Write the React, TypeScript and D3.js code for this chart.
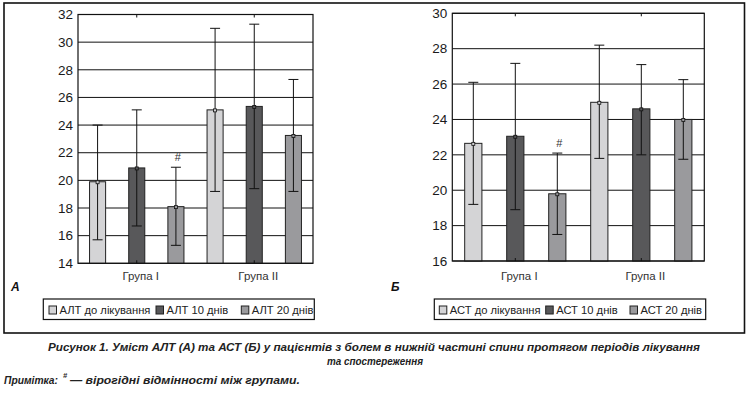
import * as d3 from 'd3';

const groups = ['Група I', 'Група II'];

const altSeries = ['АЛТ до лікування', 'АЛТ 10 днів', 'АЛТ 20 днів'];
const altBefore = [19.9, 25.1];
const altBeforeHi = [24.0, 31.0];
const altBeforeLo = [15.7, 19.2];
const alt10 = [20.9, 25.35];
const alt10Hi = [25.1, 31.3];
const alt10Lo = [16.7, 19.4];
const alt20 = [18.1, 23.25];
const alt20Hi = [20.95, 27.3];
const alt20Lo = [15.3, 19.2];
const altTicks = [14, 16, 18, 20, 22, 24, 26, 28, 30, 32];

const astSeries = ['АСТ до лікування', 'АСТ 10 днів', 'АСТ 20 днів'];
const astBefore = [22.65, 24.97];
const astBeforeHi = [26.1, 28.2];
const astBeforeLo = [19.2, 21.8];
const ast10 = [23.05, 24.6];
const ast10Hi = [27.17, 27.1];
const ast10Lo = [18.9, 22.0];
const ast20 = [19.8, 24.0];
const ast20Hi = [22.1, 26.25];
const ast20Lo = [17.5, 21.75];
const astTicks = [16, 18, 20, 22, 24, 26, 28, 30];

// "#" marks the 20-day bar of Група I in both panels
const signif = [[false, false, true], [false, false, false]];

const fills = ['#d4d4d6', '#58585a', '#9a9a9d'];
const font = '"Liberation Sans", Arial, sans-serif';

interface PanelProps {
  series: string[];
  means: number[][];
  highs: number[][];
  lows: number[][];
  ticks: number[];
  left: number;
  right: number;
  top: number;
  bottom: number;
  letter: string;
  letterX: number;
  legendX: number;
  legendW: number;
  legendItems: number[];
}

const Panel = (p: PanelProps) => {
  const y = d3.scaleLinear().domain(d3.extent(p.ticks) as [number, number]).range([p.bottom, p.top]);
  const x = d3.scaleBand().domain(groups).range([p.left, p.right]);
  const xs = d3.scaleBand().domain(p.series).range([0, x.bandwidth()]);
  const barW = xs.bandwidth() * 0.41;
  const cap = 5;

  return (
    <g>
      {p.ticks.map(t => (
        <g key={t}>
          <line x1={p.left} x2={p.right} y1={y(t)} y2={y(t)} stroke="#111" strokeWidth={1} />
          <text x={p.left - 5} y={y(t)} dy="0.35em" textAnchor="end" fontSize={13.5} fill="#1a1a1a" fontFamily={font}>{t}</text>
        </g>
      ))}
      {groups.map((g, gi) => (
        <g key={g}>
          {p.series.map((s, si) => {
            const cx = (x(g) as number) + (xs(s) as number) + xs.bandwidth() / 2;
            const m = p.means[si][gi];
            return (
              <g key={s}>
                <rect x={cx - barW / 2} y={y(m)} width={barW} height={p.bottom - y(m)} fill={fills[si]} stroke="#222" strokeWidth={1} />
                <line x1={cx} x2={cx} y1={y(p.highs[si][gi])} y2={y(p.lows[si][gi])} stroke="#111" strokeWidth={1} />
                <line x1={cx - cap} x2={cx + cap} y1={y(p.highs[si][gi])} y2={y(p.highs[si][gi])} stroke="#111" strokeWidth={1} />
                <line x1={cx - cap} x2={cx + cap} y1={y(p.lows[si][gi])} y2={y(p.lows[si][gi])} stroke="#111" strokeWidth={1} />
                <rect x={cx - 1.5} y={y(m) - 1} width={3} height={3} fill={fills[si]} stroke="#111" strokeWidth={0.8} />
                {signif[gi][si] && (
                  <text x={cx + 2} y={y(p.highs[si][gi]) - 6} textAnchor="middle" fontSize={11} fill="#333" fontFamily={font}>#</text>
                )}
              </g>
            );
          })}
          <line x1={(x(g) as number) + x.bandwidth() / 2} x2={(x(g) as number) + x.bandwidth() / 2} y1={p.top} y2={p.top + 3} stroke="#111" />
          <line x1={(x(g) as number) + x.bandwidth() / 2} x2={(x(g) as number) + x.bandwidth() / 2} y1={p.bottom} y2={p.bottom - 3} stroke="#111" />
          <text x={(x(g) as number) + x.bandwidth() / 2 + 4} y={280} textAnchor="middle" fontSize={11.5} fill="#333" fontFamily={font}>{g}</text>
        </g>
      ))}
      <rect x={p.left} y={p.top} width={p.right - p.left} height={p.bottom - p.top} fill="none" stroke="#111" strokeWidth={1.2} />
      <text x={p.letterX} y={291} fontSize={12} fontWeight="bold" fontStyle="italic" fill="#111" fontFamily={font}>{p.letter}</text>
      <rect x={p.legendX} y={299} width={p.legendW} height={20.5} fill="none" stroke="#111" strokeWidth={1.2} />
      {p.series.map((s, si) => (
        <g key={s}>
          <rect x={p.legendItems[si]} y={306} width={7.5} height={8} fill={fills[si]} stroke="#222" strokeWidth={1} />
          <text x={p.legendItems[si] + 10.5} y={313.5} fontSize={11.2} fill="#222" fontFamily={font}>{s}</text>
        </g>
      ))}
    </g>
  );
};

const App = () => {
  const cap = { fontWeight: 'bold', fontStyle: 'italic', fill: '#222', fontFamily: font } as const;
  return (
    <svg width={751} height={393} style={{ position: 'absolute', left: 0, top: 0, background: '#fff' }}>
      <rect x={0} y={0} width={751} height={393} fill="#fff" />
      <rect x={4} y={3} width={740.5} height={330} fill="none" stroke="#111" strokeWidth={1.6} />
      <Panel
        series={altSeries}
        means={[altBefore, alt10, alt20]}
        highs={[altBeforeHi, alt10Hi, alt20Hi]}
        lows={[altBeforeLo, alt10Lo, alt20Lo]}
        ticks={altTicks}
        left={78}
        right={313}
        top={14.5}
        bottom={263.3}
        letter="А"
        letterX={11}
        legendX={43.3}
        legendW={271}
        legendItems={[49, 156, 241.3]}
      />
      <Panel
        series={astSeries}
        means={[astBefore, ast10, ast20]}
        highs={[astBeforeHi, ast10Hi, ast20Hi]}
        lows={[astBeforeLo, ast10Lo, ast20Lo]}
        ticks={astTicks}
        left={452.3}
        right={704.3}
        top={13.3}
        bottom={261}
        letter="Б"
        letterX={391}
        legendX={434.3}
        legendW={271.4}
        legendItems={[439.3, 545.7, 630]}
      />
      <text x={48} y={351} fontSize={11.5} {...cap} textLength={652} lengthAdjust="spacingAndGlyphs">
        Рисунок 1. Уміст АЛТ (А) та АСТ (Б) у пацієнтів з болем в нижній частині спини протягом періодів лікування
      </text>
      <text x={327} y={365} fontSize={11.5} {...cap} textLength={96} lengthAdjust="spacingAndGlyphs">
        та спостереження
      </text>
      <text x={4} y={384} fontSize={11} {...cap} textLength={54} lengthAdjust="spacingAndGlyphs">Примітка:</text>
      <text x={63} y={378} fontSize={7.5} {...cap}>#</text>
      <text x={70} y={384} fontSize={11.5} {...cap} textLength={230} lengthAdjust="spacingAndGlyphs">— вірогідні відмінності між групами.</text>
    </svg>
  );
};

export default App;
